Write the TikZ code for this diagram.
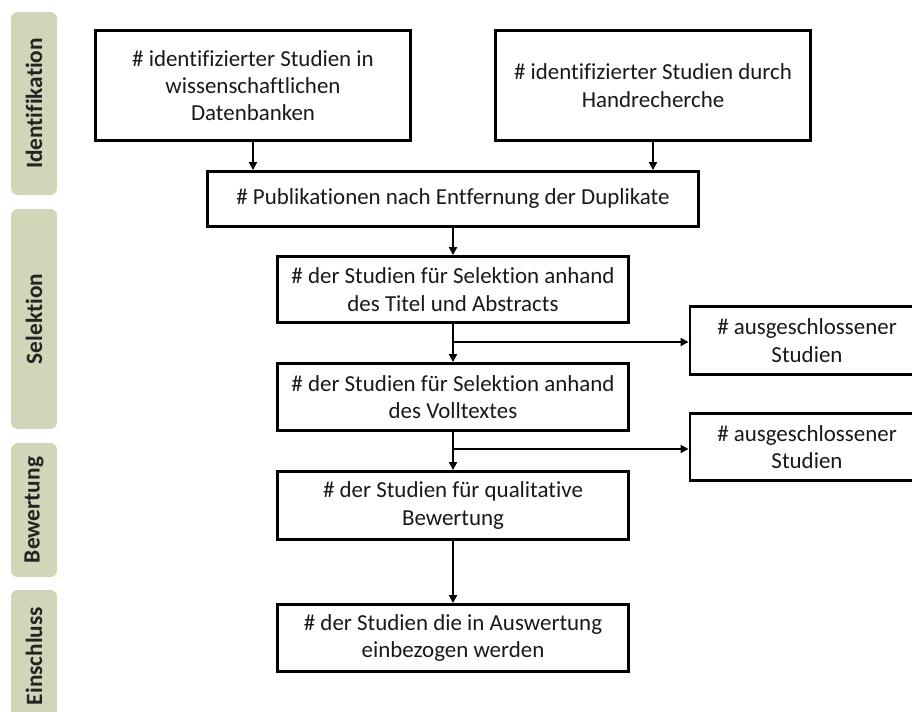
\documentclass[tikz,border=0pt]{standalone}
\usepackage{fontspec}
\setmainfont{Carlito}[Ligatures=NoCommon]
\usetikzlibrary{arrows.meta}
\definecolor{tabfill}{RGB}{208,214,184}
\definecolor{tabtext}{RGB}{35,35,35}
\definecolor{boxtext}{RGB}{25,25,25}
\begin{document}
\begin{tikzpicture}[x=0.75pt,y=-0.75pt,
  sz/.style 2 args={minimum width=#1*0.75pt, minimum height=#2*0.75pt},
  box/.style={draw=black, line width=2.2pt, fill=white, align=center,
    font=\fontsize{17.2}{20.5}\selectfont, text=boxtext, inner sep=0pt},
  tab/.style={fill=tabfill, rounded corners=5pt, inner sep=0pt, rotate=90,
    font=\bfseries\fontsize{17.5}{20}\selectfont, text=tabtext},
  conn/.style={line width=1.4pt, draw=black, -{Triangle[length=6pt,width=6pt]}}]
\useasboundingbox (0,0) rectangle (912,711);
% phase tabs
\node[tab, sz={183}{46}] (t1) at (34,103.5) {Identifikation};
\node[tab, sz={220}{46}] (t2) at (34,319) {Selektion};
\node[tab, sz={134}{46}] (t3) at (34,510) {Bewertung};
\node[tab, sz={132}{46}] (t4) at (34,656) {Einschluss};
% boxes
\node[box, sz={315}{110}] (a) at (253,85.5) {\# identifizierter Studien in\\wissenschaftlichen\\Datenbanken};
\node[box, sz={315}{110}] (b) at (653,85.5) {\# identifizierter Studien durch\\Handrecherche};
\node[box, sz={491}{55}] (p) at (453,199) {\# Publikationen nach Entfernung der Duplikate};
\node[box, sz={351}{66}] (s1) at (453,289.5) {\# der Studien für Selektion anhand\\des Titel und Abstracts};
\node[box, sz={351}{67}] (s2) at (453,397) {\# der Studien für Selektion anhand\\des Volltextes};
\node[box, sz={351}{68}] (q) at (453,505.5) {\# der Studien für qualitative\\Bewertung};
\node[box, sz={351}{67}] (e) at (453,638) {\# der Studien die in Auswertung\\einbezogen werden};
\node[box, sz={234}{68}] (x1) at (807,340.5) {\# ausgeschlossener\\Studien};
\node[box, sz={234}{67}] (x2) at (807,447) {\# ausgeschlossener\\Studien};
% connectors
\draw[conn] (a.south) -- (a.south |- p.north);
\draw[conn] (b.south) -- (b.south |- p.north);
\draw[conn] (p.south) -- (s1.north);
\draw[conn] (s1.south) -- (s2.north);
\draw[conn] (s2.south) -- (q.north);
\draw[conn] (q.south) -- (e.north);
\coordinate (j1) at (453,342);
\coordinate (j2) at (453,449);
\draw[conn] (j1) -- (j1 -| x1.west);
\draw[conn] (j2) -- (j2 -| x2.west);
\end{tikzpicture}
\end{document}
